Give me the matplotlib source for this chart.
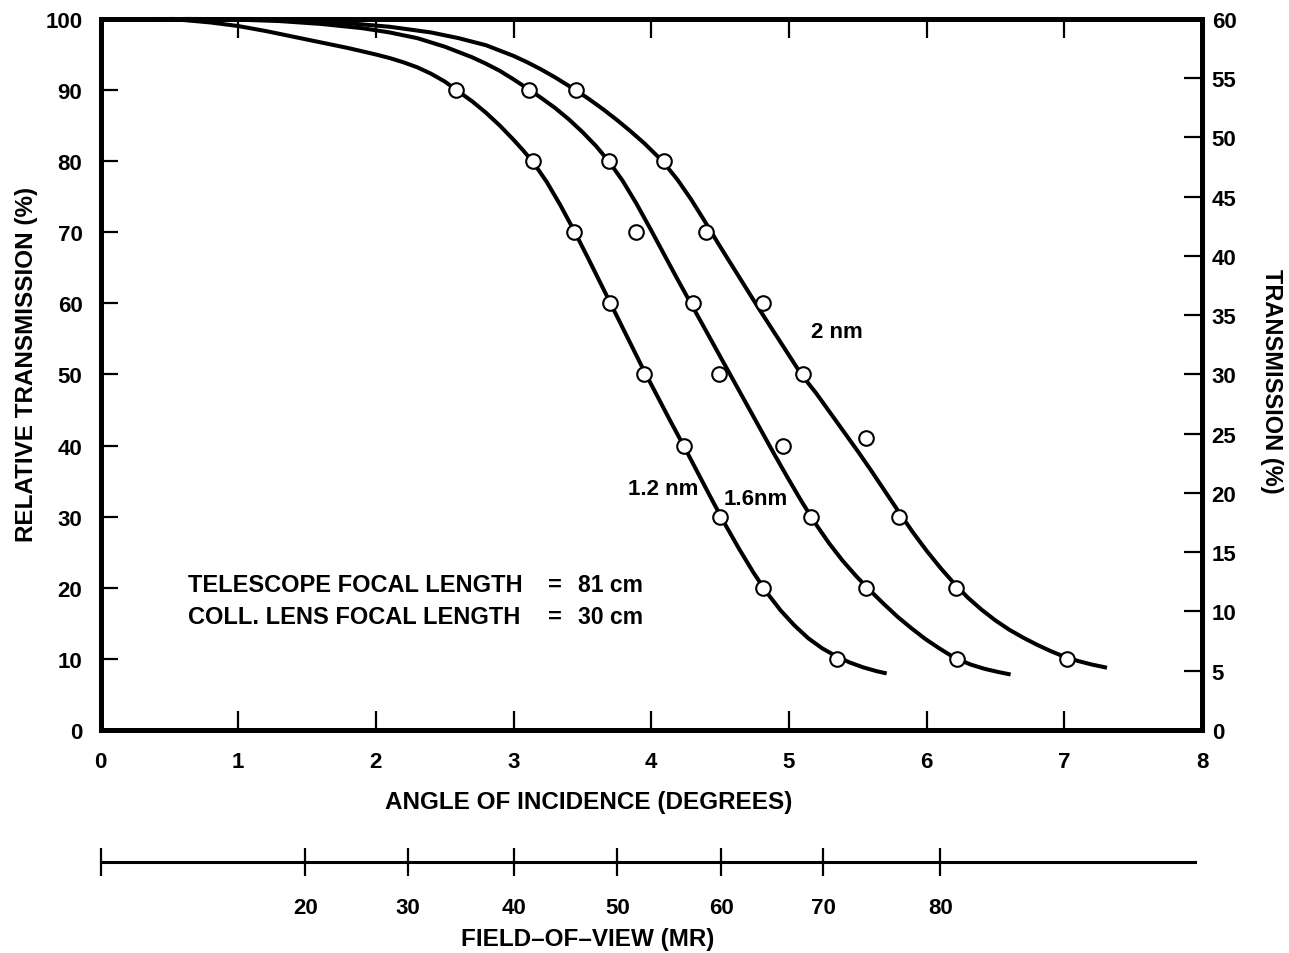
import matplotlib
matplotlib.use('Agg')
import matplotlib.pyplot as plt

plt.rcParams['font.family'] = ['Liberation Sans', 'DejaVu Sans']
plt.rcParams['font.weight'] = 'bold'
plt.rcParams['axes.labelweight'] = 'bold'

# Transmission curves for three filter bandwidths (angle in degrees, relative %)
curve_12_x = [0.40, 0.60, 0.80, 1.00, 1.20, 1.40, 1.60, 1.80, 2.00, 2.10, 2.20, 2.30, 2.40,
              2.50, 2.60, 2.70, 2.80, 2.90, 3.00, 3.07, 3.14, 3.24, 3.34, 3.44, 3.54, 3.64,
              3.74, 3.84, 3.94, 4.04, 4.14, 4.24, 4.34, 4.44, 4.54, 4.64, 4.74, 4.84, 4.94,
              5.04, 5.14, 5.24, 5.34, 5.44, 5.54, 5.64, 5.71]
curve_12_y = [100.0, 99.85, 99.5, 99.0, 98.3, 97.5, 96.7, 95.9, 95.0, 94.5, 93.9, 93.2, 92.3,
              91.2, 89.8, 88.4, 86.8, 85.0, 83.0, 81.5, 79.9, 77.1, 73.8, 70.2, 66.4, 62.5,
              58.6, 54.7, 50.8, 47.1, 43.4, 39.8, 36.1, 32.4, 28.8, 25.4, 22.2, 19.3, 16.8,
              14.7, 12.9, 11.5, 10.4, 9.5, 8.8, 8.25, 7.95]

curve_16_x = [0.50, 1.00, 1.30, 1.60, 1.90, 2.10, 2.30, 2.50, 2.70, 2.80, 2.90, 3.00, 3.11,
              3.20, 3.30, 3.40, 3.50, 3.60, 3.69, 3.79, 3.89, 3.99, 4.09, 4.19, 4.29, 4.39,
              4.49, 4.59, 4.69, 4.79, 4.89, 4.99, 5.09, 5.19, 5.29, 5.39, 5.49, 5.59, 5.69,
              5.79, 5.89, 5.99, 6.09, 6.19, 6.22, 6.32, 6.42, 6.52, 6.61]
curve_16_y = [100.0, 99.9, 99.7, 99.3, 98.7, 98.1, 97.3, 96.1, 94.6, 93.7, 92.7, 91.5, 90.1,
              88.9, 87.5, 85.9, 84.1, 82.1, 80.0, 77.3, 74.1, 70.6, 67.0, 63.4, 59.9, 56.4,
              52.9, 49.4, 45.9, 42.4, 38.9, 35.5, 32.2, 29.1, 26.3, 23.8, 21.6, 19.6, 17.7,
              15.9, 14.3, 12.8, 11.5, 10.3, 10.0, 9.2, 8.6, 8.15, 7.8]

curve_20_x = [0.60, 1.00, 1.40, 1.80, 2.10, 2.40, 2.60, 2.80, 3.00, 3.10, 3.20, 3.30, 3.40,
              3.45, 3.55, 3.65, 3.75, 3.85, 3.95, 4.05, 4.09, 4.19, 4.29, 4.39, 4.49, 4.59,
              4.69, 4.79, 4.89, 4.99, 5.09, 5.20, 5.30, 5.40, 5.50, 5.60, 5.70, 5.80, 5.90,
              6.00, 6.10, 6.20, 6.30, 6.40, 6.50, 6.60, 6.70, 6.80, 6.90, 7.00, 7.10, 7.20,
              7.31]
curve_20_y = [100.0, 99.97, 99.8, 99.4, 98.9, 98.1, 97.3, 96.3, 94.8, 93.9, 92.9, 91.8, 90.6,
              90.0, 88.7, 87.3, 85.8, 84.2, 82.5, 80.6, 79.8, 77.4, 74.6, 71.5, 68.3, 65.2,
              62.1, 59.0, 56.0, 53.0, 50.0, 47.3, 44.6, 41.9, 39.2, 36.4, 33.5, 30.6, 27.8,
              25.2, 22.8, 20.6, 18.6, 16.9, 15.4, 14.1, 13.0, 12.0, 11.1, 10.3, 9.7, 9.2,
              8.75]

# Measured points
pts_12_x = [2.58, 3.14, 3.44, 3.70, 3.95, 4.24, 4.50, 4.81, 5.35]
pts_12_y = [90, 80, 70, 60, 50, 40, 30, 20, 10]
pts_16_x = [3.11, 3.69, 3.89, 4.30, 4.49, 4.96, 5.16, 5.56, 6.22]
pts_16_y = [90, 80, 70, 60, 50, 40, 30, 20, 10]
pts_20_x = [3.45, 4.09, 4.40, 4.81, 5.10, 5.56, 5.80, 6.21, 7.02]
pts_20_y = [90, 80, 70, 60, 50, 41, 30, 20, 10]

# Field-of-view scale (mrad) against angle of incidence
fov_labels = ['', '20', '30', '40', '50', '60', '70', '80']
fov_angle = [0.0, 1.486, 2.235, 3.0, 3.753, 4.51, 5.25, 6.10]

fig = plt.figure(figsize=(12.89, 9.54), dpi=100)
ax = fig.add_axes([0.078, 0.2338, 0.8545, 0.7453])

for cx, cy in [(curve_12_x, curve_12_y), (curve_16_x, curve_16_y), (curve_20_x, curve_20_y)]:
    ax.plot(cx, cy, color='black', lw=2.9, solid_joinstyle='round', solid_capstyle='butt',
            zorder=3, clip_on=False)
for px, py in [(pts_12_x, pts_12_y), (pts_16_x, pts_16_y), (pts_20_x, pts_20_y)]:
    ax.plot(px, py, 'o', ms=10.5, mfc='white', mec='black', mew=1.5, zorder=4)

ax.set_xlim(0, 8)
ax.set_ylim(0, 100)
ax.set_xticks(range(0, 9))
ax.set_yticks(range(0, 101, 10))
ax.tick_params(axis='x', direction='in', length=14, width=1.6, labelsize=16, pad=15,
               top=True, bottom=True)
ax.tick_params(axis='y', direction='in', length=12, width=1.6, labelsize=16, pad=13,
               left=True, right=False)
for s in ax.spines.values():
    s.set_linewidth(3.5)

ax2 = ax.twinx()
ax2.set_ylim(0, 60)
ax2.set_yticks(range(0, 61, 5))
ax2.tick_params(axis='y', direction='in', length=13, width=1.6, labelsize=16, pad=7)
for s in ax2.spines.values():
    s.set_linewidth(3.5)

# Curve labels and optics note
ax.text(5.35, 56.0, '2 nm', fontsize=16, ha='center', va='center')
ax.text(4.09, 33.9, '1.2 nm', fontsize=16, ha='center', va='center')
ax.text(4.76, 32.5, '1.6nm', fontsize=16, ha='center', va='center')

note_size = 17
ax.text(0.636, 20.5, 'TELESCOPE FOCAL LENGTH', fontsize=note_size, ha='left', va='center')
ax.text(0.636, 16.0, 'COLL. LENS FOCAL LENGTH', fontsize=note_size, ha='left', va='center')
ax.text(3.30, 20.5, '=', fontsize=note_size, ha='center', va='center')
ax.text(3.30, 16.0, '=', fontsize=note_size, ha='center', va='center')
ax.text(3.94, 20.5, '81 cm', fontsize=16.5, ha='right', va='center')
ax.text(3.94, 16.0, '30 cm', fontsize=16.5, ha='right', va='center')

ax.set_xlabel('ANGLE OF INCIDENCE (DEGREES)', fontsize=17.5, va='center')
ax.xaxis.set_label_coords(589 / 1289, 1 - 803 / 954, transform=fig.transFigure)
ax.set_ylabel('RELATIVE TRANSMISSION (%)', fontsize=17.5, va='center')
ax.yaxis.set_label_coords(27 / 1289, 1 - 364 / 954, transform=fig.transFigure)
ax2.set_ylabel('TRANSMISSION (%)', fontsize=17, rotation=270, va='center')
ax2.yaxis.set_label_coords(1272 / 1289, 1 - 381 / 954, transform=fig.transFigure)

# Secondary scale: field of view
axf = fig.add_axes([0.078, 1 - 863 / 954, 0.8545, 0.01])
axf.set_xlim(0, 8)
axf.set_yticks([])
axf.patch.set_visible(False)
for s in ['left', 'right', 'top']:
    axf.spines[s].set_visible(False)
axf.spines['bottom'].set_linewidth(2.2)
axf.spines['bottom'].set_bounds(0, 7.95)
axf.set_xticks(fov_angle, fov_labels)
axf.tick_params(axis='x', direction='inout', length=20, width=1.6, labelsize=16, pad=15)
axf.set_xlabel('FIELD\u2013OF\u2013VIEW (MR)', fontsize=17.5, va='center')
axf.xaxis.set_label_coords(588 / 1289, 1 - 940 / 954, transform=fig.transFigure)

fig.savefig('out.png', dpi=100)
